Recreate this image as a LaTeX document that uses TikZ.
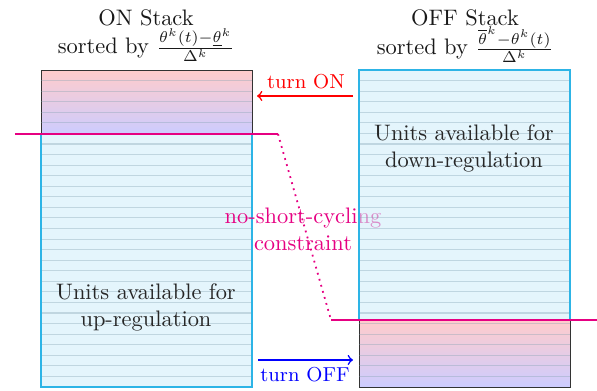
\documentclass[tikz,border=0pt]{standalone}
\usepackage{amsmath}
\definecolor{cyanB}{RGB}{45,180,230}
\definecolor{cyanF}{RGB}{228,245,252}
\definecolor{cyanD}{RGB}{210,238,250}
\definecolor{pinkL}{RGB}{230,0,130}
\begin{document}
\begin{tikzpicture}[x=0.446pt,y=-0.446pt,
  activebox/.style={draw=black!80, top color=red!20, bottom color=blue!20, line width=0.5pt},
  stripe/.style={draw=gray!70!cyan, draw opacity=0.35, line width=0.5pt},
  limit/.style={draw=pinkL, line width=1.3pt},
  cyclink/.style={draw=pinkL, dotted, line width=0.8pt},
  lbl/.style={align=center, text=black!85, inner sep=0pt},
  title/.style={text=black!90, inner sep=0pt},
  act/.style={->, line width=0.7pt},
]
\useasboundingbox (0,0) rectangle (597,391);
% left stack
\fill[cyanF] (41,134) rectangle (252,387);
\node[activebox, minimum width=211*0.446pt, minimum height=64*0.446pt, inner sep=0pt, anchor=north west] (onbox) at (41,70) {};
\foreach \i in {1,...,29} \draw[stripe] (41,{70+\i*10.567}) -- (252,{70+\i*10.567});
\draw[cyanB, line width=0.5pt] (41,134) rectangle (252,387);
% constraint label (partly under the right stack)
\node[lbl, text=pinkL] (nsc) at (303,229) {no-short-cycling\\constraint};
% right stack
\fill[cyanD, fill opacity=0.6] (359,70) rectangle (570,320);
\node[activebox, minimum width=211*0.446pt, minimum height=67*0.446pt, inner sep=0pt, anchor=north west] (offbox) at (359,320) {};
\foreach \i in {1,...,29} \draw[stripe] (359,{70+\i*10.567}) -- (570,{70+\i*10.567});
\draw[cyanB, line width=0.5pt] (359,70) rectangle (570,320);
% limits
\coordinate (la) at (15,134);
\coordinate (lb) at (278,134);
\coordinate (ra) at (331,320);
\coordinate (rb) at (597,320);
\draw[limit] (la) -- (lb);
\draw[limit] (ra) -- (rb);
\draw[cyclink] (lb) -- (ra);
% titles
\node[title] (ont) at (146,18) {ON Stack};
\node[title] (ons) at (146,45) {sorted by $\frac{\theta^k(t)-\underline{\theta}^k}{\Delta^k}$};
\node[title] (offt) at (465,18) {OFF Stack};
\node[title] (offs) at (465,45) {sorted by $\frac{\overline{\theta}^k-\theta^k(t)}{\Delta^k}$};
% labels
\node[lbl] (dn) at (464,148) {Units available for\\down-regulation};
\node[lbl] (up) at (146,307) {Units available for\\up-regulation};
% arrows
\coordinate (ons1) at (353,96);
\coordinate (ons2) at (257,96);
\coordinate (off1) at (258,360);
\coordinate (off2) at (353,360);
\draw[act, red] (ons1) -- (ons2);
\draw[act, blue] (off1) -- (off2);
\node[text=red, font=\small, inner sep=0pt] (ton) at (306,82) {turn ON};
\node[text=blue, font=\small, inner sep=0pt] (toff) at (305,375) {turn OFF};
\end{tikzpicture}
\end{document}
